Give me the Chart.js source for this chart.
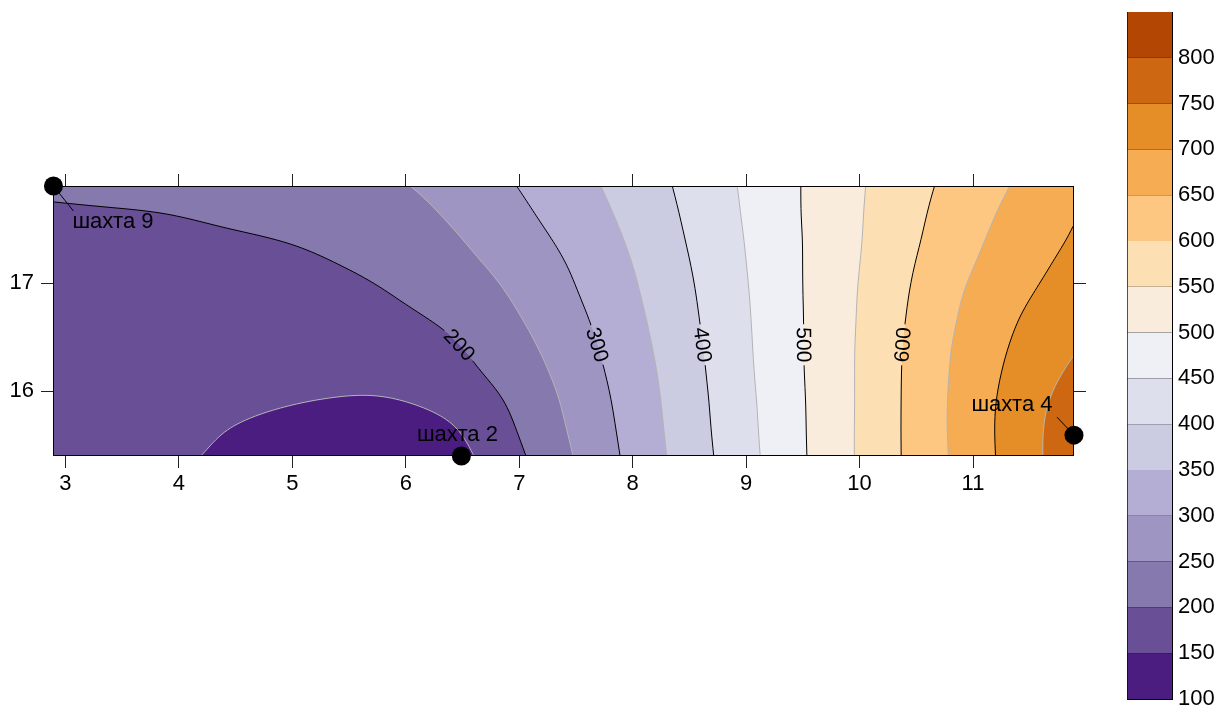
<!DOCTYPE html>
<html lang="ru">
<head>
<meta charset="utf-8">
<title>Карта изолиний</title>
<script src="https://cdn.jsdelivr.net/npm/chart.js@4.4.1/dist/chart.umd.min.js"></script>
<style>
  html, body { margin: 0; padding: 0; background: #fff; }
  #quadro { position: relative; width: 1224px; height: 711px; }
  #caixa-mapa { position: absolute; left: 0; top: 0; }
  #caixa-escala { position: absolute; left: 1127px; top: 0; }
</style>
</head>
<body>
<div id="quadro">
  <div id="caixa-mapa"><canvas id="mapa" width="1224" height="711"></canvas></div>
  <div id="caixa-escala"><canvas id="escala" width="97" height="711"></canvas></div>
</div>
<script>
// --- 1. DADOS ---
// Grade regular do campo: colunas em X, linhas em Y (de baixo para cima)
const gradeX = [2.89, 3.39, 3.89, 4.39, 4.89, 5.39, 5.89, 6.39, 6.89, 7.39, 7.89, 8.39, 8.89, 9.39, 9.89, 10.39, 10.89, 11.39, 11.89];
const gradeY = [15.4, 15.65, 15.9, 16.15, 16.4, 16.65, 16.9, 17.15, 17.4, 17.65, 17.9];
const valores = [
    [181, 173, 156, 146, 136, 127, 123, 126, 179, 240, 300, 361, 421, 483, 542, 603, 663, 723, 783],
    [182, 175, 163, 149, 141, 134, 133, 136, 191, 247, 304, 364, 424, 484, 542, 603, 665, 724, 782],
    [182, 178, 170, 160, 152, 147, 145, 160, 199, 253, 308, 366, 426, 485, 541, 603, 665, 722, 774],
    [183, 181, 176, 170, 165, 160, 160, 181, 213, 261, 313, 369, 429, 487, 541, 603, 663, 716, 760],
    [184, 183, 181, 177, 174, 172, 176, 190, 226, 269, 319, 373, 431, 488, 541, 602, 661, 709, 746],
    [186, 186, 184, 182, 181, 181, 189, 204, 238, 278, 325, 378, 433, 488, 540, 599, 655, 702, 736],
    [188, 188, 188, 187, 187, 188, 199, 220, 248, 288, 332, 382, 435, 489, 540, 595, 651, 691, 725],
    [190, 191, 191, 192, 194, 198, 210, 233, 259, 296, 338, 387, 438, 490, 538, 591, 642, 680, 715],
    [193, 194, 195, 197, 199, 205, 220, 242, 273, 306, 346, 393, 441, 490, 537, 585, 634, 672, 704],
    [197, 198, 199, 203, 208, 215, 228, 255, 284, 317, 354, 398, 444, 492, 537, 582, 626, 665, 697],
    [204, 206, 208, 212, 218, 227, 242, 267, 294, 326, 362, 403, 447, 492, 536, 579, 618, 655, 692]
];

// Níveis das faixas e cores (paleta roxo -> laranja)
const niveis = [100, 150, 200, 250, 300, 350, 400, 450, 500, 550, 600, 650, 700, 750, 800, 850];
const cores = ["#4b1d80", "#684f96", "#8579ad", "#9e95c2", "#b4aed4", "#cbcbe2", "#dedfed", "#eff0f5",
               "#f9ecdd", "#fddfb4", "#fdc782", "#f6ac53", "#e58d26", "#ce6711", "#b34603"];
const niveisRotulados = [200, 300, 400, 500, 600];
const linhaRotulosY = 16.43;

// Marcas dos eixos
const ticksX = [3, 4, 5, 6, 7, 8, 9, 10, 11];
const ticksY = [16, 17];

// Poços (шахты)
const pocosNome = ["шахта 9", "шахта 2", "шахта 4"];
const pocosX = [2.894, 6.49, 11.89];
const pocosY = [17.9, 15.4, 15.593];

// --- 2. ESTILO ---
const FONTE = "'Liberation Sans', Arial, sans-serif";
const TAM = 22;
// deslocamentos (px) do texto e da linha-guia em relação ao ponto
const estiloPocos = [
    { dx: 19, dy: 36, alinhar: "left", guia: [0, 0, 20, 25] },
    { dx: -4, dy: -21, alinhar: "center", guia: null },
    { dx: -62, dy: -30, alinhar: "center", guia: [-17, -18, 0, 0] }
];

// --- 3. INTERPOLAÇÃO DO CAMPO (B-spline cúbica, suaviza a leitura) ---
function spline(p0, p1, p2, p3, t) {
    const t2 = t * t, t3 = t2 * t;
    return ((1 - t) ** 3 * p0 + (3 * t3 - 6 * t2 + 4) * p1 + (-3 * t3 + 3 * t2 + 3 * t + 1) * p2 + t3 * p3) / 6;
}
const lim = (v, a, b) => Math.max(a, Math.min(b, v));

// valor do nó com extrapolação linear fora da grade
function no(R, k) {
    const n = R.length;
    if (k < 0) return 2 * R[0] - R[1];
    if (k >= n) return 2 * R[n - 1] - R[n - 2];
    return R[k];
}

function campo(vx, vy) {
    const nx = gradeX.length, ny = gradeY.length;
    const u = (vx - gradeX[0]) / (gradeX[1] - gradeX[0]);
    const w = (vy - gradeY[0]) / (gradeY[1] - gradeY[0]);
    const i = lim(Math.floor(u), 0, nx - 2), j = lim(Math.floor(w), 0, ny - 2);
    const tx = u - i, ty = w - j;
    const linha = r => {
        let R;
        if (r < 0) R = valores[0].map((v, k) => 2 * v - valores[1][k]);
        else if (r >= ny) R = valores[ny - 1].map((v, k) => 2 * v - valores[ny - 2][k]);
        else R = valores[r];
        return spline(no(R, i - 1), no(R, i), no(R, i + 1), no(R, i + 2), tx);
    };
    return spline(linha(j - 1), linha(j), linha(j + 1), linha(j + 2), ty);
}

function faixa(v) {
    for (let k = 0; k < cores.length; k++) if (v < niveis[k + 1]) return k;
    return cores.length - 1;
}

function hexRgb(h) {
    const n = parseInt(h.slice(1), 16);
    return [(n >> 16) & 255, (n >> 8) & 255, n & 255];
}

// --- 4. PLUGIN DE CONTORNOS ---
const pluginContorno = {
    id: "contorno",
    beforeDatasetsDraw(chart) {
        const { ctx, chartArea: a, scales: { x, y } } = chart;
        const L = Math.round(a.left), T = Math.round(a.top);
        const W = Math.round(a.right) - L, H = Math.round(a.bottom) - T;
        const f = (px, py) => campo(x.getValueForPixel(px), y.getValueForPixel(py));

        // amostragem do campo em cada pixel
        const Z = [];
        for (let j = 0; j <= H; j++) {
            const vy = y.getValueForPixel(T + j);
            const row = new Float64Array(W + 1);
            for (let i = 0; i <= W; i++) row[i] = campo(x.getValueForPixel(L + i), vy);
            Z.push(row);
        }

        // preenchimento por faixas
        const off = document.createElement("canvas");
        off.width = W; off.height = H;
        const octx = off.getContext("2d");
        const img = octx.createImageData(W, H);
        const rgb = cores.map(hexRgb);
        for (let j = 0; j < H; j++) {
            for (let i = 0; i < W; i++) {
                const v = (Z[j][i] + Z[j][i + 1] + Z[j + 1][i] + Z[j + 1][i + 1]) / 4;
                const c = rgb[faixa(v)];
                const p = (j * W + i) * 4;
                img.data[p] = c[0]; img.data[p + 1] = c[1]; img.data[p + 2] = c[2]; img.data[p + 3] = 255;
            }
        }
        octx.putImageData(img, 0, 0);
        ctx.drawImage(off, L, T);

        // posição e ângulo dos rótulos
        const pyR = y.getPixelForValue(linhaRotulosY);
        ctx.font = `${TAM - 1}px ${FONTE}`;
        const rotulos = [];
        niveisRotulados.forEach(nv => {
            for (let px = L + 1; px < L + W - 1; px++) {
                const v0 = f(px, pyR), v1 = f(px + 1, pyR);
                if ((v0 - nv) * (v1 - nv) <= 0 && v0 !== v1) {
                    const cx = px + (nv - v0) / (v1 - v0);
                    const gx = f(cx + 2, pyR) - f(cx - 2, pyR);
                    const gy = f(cx, pyR + 2) - f(cx, pyR - 2);
                    let ang = Math.atan2(gx, -gy);
                    if (ang > Math.PI / 2) ang -= Math.PI;
                    if (ang <= -Math.PI / 2) ang += Math.PI;
                    rotulos.push({ nv, cx, cy: pyR, ang, w: ctx.measureText(String(nv)).width + 6, h: TAM * 0.8 });
                    break;
                }
            }
        });

        // linhas de contorno (marching squares), com recorte nos rótulos
        ctx.save();
        ctx.beginPath();
        ctx.rect(L, T, W, H);
        rotulos.forEach(r => {
            const c = Math.cos(r.ang), s = Math.sin(r.ang);
            const pts = [[-r.w / 2, -r.h / 2], [r.w / 2, -r.h / 2], [r.w / 2, r.h / 2], [-r.w / 2, r.h / 2]];
            pts.forEach((p, k) => {
                const qx = r.cx + p[0] * c - p[1] * s, qy = r.cy + p[0] * s + p[1] * c;
                k === 0 ? ctx.moveTo(qx, qy) : ctx.lineTo(qx, qy);
            });
            ctx.closePath();
        });
        ctx.clip("evenodd");

        const passo = 2;
        const ni = Math.floor(W / passo), nj = Math.floor(H / passo);
        const px = i => L + i * passo;
        const py = j => T + j * passo;
        const G = (j, i) => Z[j * passo][i * passo];

        niveis.slice(1, -1).forEach(nv => {
            ctx.beginPath();
            for (let j = 0; j < nj; j++) {
                for (let i = 0; i < ni; i++) {
                    const a0 = G(j, i), b0 = G(j, i + 1), c0 = G(j + 1, i + 1), d0 = G(j + 1, i);
                    const pts = [];
                    const borda = (v1, v2, x1, y1, x2, y2) => {
                        if ((v1 - nv) * (v2 - nv) < 0) {
                            const t = (nv - v1) / (v2 - v1);
                            pts.push([x1 + t * (x2 - x1), y1 + t * (y2 - y1)]);
                        }
                    };
                    borda(a0, b0, px(i), py(j), px(i + 1), py(j));
                    borda(b0, c0, px(i + 1), py(j), px(i + 1), py(j + 1));
                    borda(c0, d0, px(i + 1), py(j + 1), px(i), py(j + 1));
                    borda(d0, a0, px(i), py(j + 1), px(i), py(j));
                    for (let k = 0; k + 1 < pts.length; k += 2) {
                        ctx.moveTo(pts[k][0], pts[k][1]);
                        ctx.lineTo(pts[k + 1][0], pts[k + 1][1]);
                    }
                }
            }
            ctx.strokeStyle = nv % 100 === 0 ? "#000" : "#b4b4b4";
            ctx.lineWidth = 1;
            ctx.stroke();
        });
        ctx.restore();

        // textos dos rótulos
        ctx.save();
        ctx.font = `${TAM - 1}px ${FONTE}`;
        ctx.fillStyle = "#000";
        ctx.textAlign = "center";
        ctx.textBaseline = "middle";
        rotulos.forEach(r => {
            ctx.save();
            ctx.translate(r.cx, r.cy);
            ctx.rotate(r.ang);
            ctx.fillText(String(r.nv), 0, 1);
            ctx.restore();
        });
        // moldura
        ctx.strokeStyle = "#000";
        ctx.lineWidth = 1;
        ctx.strokeRect(L + 0.5, T + 0.5, W - 1, H - 1);
        ctx.restore();
    },
    afterDatasetsDraw(chart) {
        const { ctx, scales: { x, y } } = chart;
        ctx.save();
        ctx.font = `${TAM}px ${FONTE}`;
        ctx.fillStyle = "#000";
        ctx.strokeStyle = "#000";
        ctx.lineWidth = 1;
        ctx.textBaseline = "middle";
        pocosNome.forEach((nome, k) => {
            const e = estiloPocos[k];
            const cx = x.getPixelForValue(pocosX[k]), cy = y.getPixelForValue(pocosY[k]);
            if (e.guia) {
                ctx.beginPath();
                ctx.moveTo(cx + e.guia[0], cy + e.guia[1]);
                ctx.lineTo(cx + e.guia[2], cy + e.guia[3]);
                ctx.stroke();
            }
            ctx.textAlign = e.alinhar;
            ctx.fillText(nome, cx + e.dx, cy + e.dy);
        });
        ctx.restore();
    }
};

// --- 5. GRÁFICO PRINCIPAL ---
const fonteEixo = { family: FONTE, size: TAM };
const gradeEixo = { drawOnChartArea: false, drawTicks: true, tickLength: 12, color: "#222", lineWidth: 1 };
const marcasX = s => { s.ticks = ticksX.map(v => ({ value: v })); };
const marcasY = s => { s.ticks = ticksY.map(v => ({ value: v })); };

new Chart(document.getElementById("mapa"), {
    type: "scatter",
    data: {
        datasets: [{
            data: pocosX.map((v, k) => ({ x: v, y: pocosY[k] })),
            pointRadius: 9.5,
            pointHoverRadius: 9.5,
            backgroundColor: "#000",
            borderWidth: 0,
            clip: false
        }]
    },
    options: {
        responsive: false,
        animation: false,
        events: [],
        layout: { padding: 0 },
        plugins: { legend: { display: false }, tooltip: { enabled: false } },
        scales: {
            x: {
                type: "linear", position: "bottom", min: 2.89, max: 11.89,
                afterBuildTicks: marcasX,
                ticks: { font: fonteEixo, color: "#000", padding: 3, maxRotation: 0, autoSkip: false },
                grid: gradeEixo, border: { display: false },
                afterFit(s) { s.height = 255; }
            },
            x2: {
                type: "linear", position: "top", min: 2.89, max: 11.89,
                afterBuildTicks: marcasX,
                ticks: { display: false },
                grid: gradeEixo, border: { display: false },
                afterFit(s) { s.height = 186; }
            },
            y: {
                type: "linear", position: "left", min: 15.4, max: 17.9,
                afterBuildTicks: marcasY,
                ticks: { font: fonteEixo, color: "#000", padding: 7 },
                grid: gradeEixo, border: { display: false },
                afterFit(s) { s.width = 53; }
            },
            y2: {
                type: "linear", position: "right", min: 15.4, max: 17.9,
                afterBuildTicks: marcasY,
                ticks: { display: false },
                grid: gradeEixo, border: { display: false },
                afterFit(s) { s.width = 150; }
            }
        }
    },
    plugins: [pluginContorno]
});

// --- 6. ESCALA DE CORES ---
new Chart(document.getElementById("escala"), {
    type: "bar",
    data: {
        labels: [""],
        datasets: cores.map((c, i) => ({
            data: [[niveis[i], niveis[i + 1]]],
            backgroundColor: c,
            borderColor: "#000",
            borderWidth: { left: 1, right: 0, top: 0, bottom: 0 },
            borderSkipped: false,
            grouped: false,
            barPercentage: 1,
            categoryPercentage: 1
        }))
    },
    options: {
        responsive: false,
        animation: false,
        events: [],
        layout: { padding: { top: 12, bottom: 12, left: 0, right: 0 } },
        plugins: { legend: { display: false }, tooltip: { enabled: false } },
        scales: {
            x: { display: false },
            y: {
                position: "right", min: 100, max: 850, z: 1,
                ticks: { stepSize: 50, font: fonteEixo, color: "#000", padding: 6,
                         callback: v => (v === 850 ? "" : v) },
                grid: { drawOnChartArea: true, drawTicks: false, color: "#000", lineWidth: 1 },
                border: { display: true, color: "#000" },
                afterFit(s) { s.width = 52; s.paddingTop = 0; s.paddingBottom = 0; }
            }
        }
    }
});
</script>
</body>
</html>
